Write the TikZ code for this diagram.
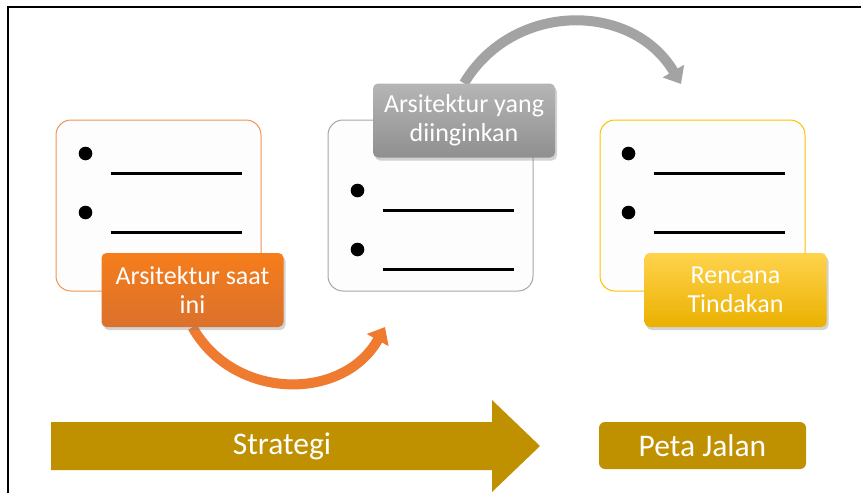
\documentclass[tikz,border=0pt]{standalone}
\usepackage{fontspec}
\setmainfont{Carlito}
\usetikzlibrary{shapes,positioning,arrows.meta,shadows,backgrounds}

\definecolor{goldbar}{HTML}{BF9000}
\definecolor{edgeorange}{HTML}{F29352}
\definecolor{edgegray}{HTML}{A6A6A6}
\definecolor{edgeyellow}{HTML}{FFC000}
\definecolor{boxfill}{HTML}{FDFDFD}
\definecolor{arcorange}{HTML}{EE7B30}
\definecolor{arcgray}{HTML}{A3A3A3}

\tikzset{
  listbox/.style={draw, line width=1pt, fill=boxfill, rounded corners=15pt,
    minimum width=205pt, minimum height=171pt, inner sep=0},
  tagbox/.style={rounded corners=5pt, minimum width=182pt, minimum height=74pt,
    align=center, text=white, inner sep=2pt,
    drop shadow={opacity=0.35, shadow xshift=2pt, shadow yshift=-3pt}},
  bigarc/.style={line width=10pt, -{Triangle[length=15pt,width=24pt]}},
  rule/.style={line width=2.6pt}
}

\begin{document}
\begin{tikzpicture}[x=1pt,y=-1pt,font=\fontsize{26}{29}\selectfont]

		\useasboundingbox (0,0) rectangle (861,493);
		
		% frame
		\draw[line width=2pt] (8,493) -- (8,7) -- (861,7);
		
		% list boxes
		\node[listbox, draw=edgeorange] (boxNow) at (158.5,205.5) {};
		\node[listbox, draw=edgegray] (boxGoal) at (430.5,205.5) {};
		\node[listbox, draw=edgeyellow] (boxPlan) at (702.5,205.5) {};
		
		% bullets
		\fill ([shift={(30,34)}]boxNow.north west) circle (6.8pt);
		\fill ([shift={(30,93)}]boxNow.north west) circle (6.8pt);
		\draw[rule] ([shift={(55,54)}]boxNow.north west) -- ([shift={(186,54)}]boxNow.north west);
		\draw[rule] ([shift={(55,113)}]boxNow.north west) -- ([shift={(186,113)}]boxNow.north west);
		
		\fill ([shift={(30,71)}]boxGoal.north west) circle (6.8pt);
		\fill ([shift={(30,130)}]boxGoal.north west) circle (6.8pt);
		\draw[rule] ([shift={(55,91)}]boxGoal.north west) -- ([shift={(186,91)}]boxGoal.north west);
		\draw[rule] ([shift={(55,150)}]boxGoal.north west) -- ([shift={(186,150)}]boxGoal.north west);
		
		\fill ([shift={(29,34)}]boxPlan.north west) circle (6.8pt);
		\fill ([shift={(29,93)}]boxPlan.north west) circle (6.8pt);
		\draw[rule] ([shift={(54,54)}]boxPlan.north west) -- ([shift={(185,54)}]boxPlan.north west);
		\draw[rule] ([shift={(54,113)}]boxPlan.north west) -- ([shift={(185,113)}]boxPlan.north west);
		
		% tags
		\node[tagbox,
		top color=orange!45!arcorange,
		middle color=arcorange,
		bottom color=arcorange!92!black] (tagNow) at (192.5,290) {Arsitektur saat\\ini};
		
		\node[tagbox,
		top color=arcgray!80!white,
		middle color=arcgray,
		bottom color=arcgray!88!black] (tagGoal) at (464,120.5) {Arsitektur yang\\diinginkan};
		
		\node[tagbox,
		top color=edgeyellow!70!white,
		middle color=edgeyellow,
		bottom color=edgeyellow!92!black] (tagPlan) at (735.5,290) {Rencana\\Tindakan};
		
		% curved arrows
		\coordinate (tipNow) at (385,327);
		\coordinate (tipGoal) at (681,84);
		
		\begin{scope}[on background layer]
		\draw[bigarc, arcorange] (tagNow.south)
		.. controls (233.8,400.9) and (343.2,401.7) .. (tipNow);
		\draw[bigarc, arcgray] (tagGoal.north)
		.. controls (512.8,1.3) and (632.2,1.3) .. (tipGoal);
		\end{scope}
		
		% bottom row
		\fill[goldbar] (51,422) -- (492,422) -- (492,400) -- (540,446)
		-- (492,492) -- (492,470) -- (51,470) -- cycle;
		\node[text=white, font=\fontsize{31.5}{36}\selectfont] (strategi) at (282,446) {Strategi};
		
		\node[fill=goldbar,
		rounded corners=6pt,
		minimum width=207pt,
		minimum height=47pt,
		text=white,
		font=\fontsize{31.5}{36}\selectfont] (petaJalan) at (702.5,445.5) {Peta Jalan};
		
\end{tikzpicture}
\end{document}
